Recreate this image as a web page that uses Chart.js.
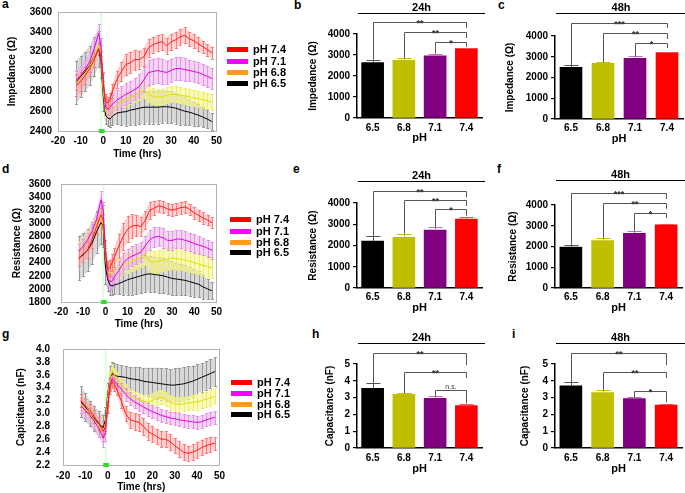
<!DOCTYPE html>
<html><head><meta charset="utf-8">
<script src="https://cdn.jsdelivr.net/npm/chart.js@4"></script>
<style>
body{margin:0;width:685px;height:493px;background:#fff;position:relative;overflow:hidden;font-family:"Liberation Sans",Arial,sans-serif;}
canvas{position:absolute;}
.lt{position:absolute;font:bold 12px "Liberation Sans",Arial,sans-serif;line-height:12px;}
.sw{position:absolute;width:21px;height:5px;}
.lg{position:absolute;font:bold 11px "Liberation Sans",Arial,sans-serif;line-height:12px;white-space:nowrap;}
</style></head><body>
<div class="lt" style="left:2px;top:-2px">a</div>
<div class="lt" style="left:294px;top:-1px">b</div>
<div class="lt" style="left:498px;top:-1px">c</div>
<div class="lt" style="left:2px;top:163px">d</div>
<div class="lt" style="left:293px;top:163px">e</div>
<div class="lt" style="left:497px;top:163px">f</div>
<div class="lt" style="left:2px;top:328px">g</div>
<div class="lt" style="left:312px;top:328px">h</div>
<div class="lt" style="left:512px;top:328px">i</div>

<canvas id="ca" width="226" height="160" style="left:0;top:0"></canvas>
<canvas id="cb" width="190" height="145" style="left:300px;top:0"></canvas>
<canvas id="cc" width="195" height="146" style="left:490px;top:0"></canvas>
<canvas id="cd" width="226" height="162" style="left:0;top:168px"></canvas>
<canvas id="ce" width="190" height="155" style="left:300px;top:160px"></canvas>
<canvas id="cf" width="195" height="155" style="left:490px;top:160px"></canvas>
<canvas id="cg" width="230" height="163" style="left:0;top:330px"></canvas>
<canvas id="ch" width="190" height="146" style="left:300px;top:330px"></canvas>
<canvas id="ci" width="195" height="146" style="left:490px;top:330px"></canvas>
<div id="legends"></div>
<script>
// ---------- DATA ----------
const T = [-12,-10,-8,-6,-4,-2,-1,0,1,2,3,4,6,8,10,12,14,16,18,20,22,24,26,28,30,32,34,36,38,40,42,44,46,48];
const SERIES_LABELS = ['pH 7.4','pH 7.1','pH 6.8','pH 6.5'];

// Impedance time course (Ohm)
const IMP_74  = [2860,2900,2960,3030,3120,3230,3150,2900,2700,2680,2720,2800,2920,3000,3070,3090,3120,3120,3150,3240,3270,3290,3300,3260,3300,3320,3350,3365,3330,3310,3280,3250,3220,3190];
const IMP_74E = [110,100,90,80,70,60,60,80,70,60,60,70,90,100,110,110,100,90,90,90,80,80,80,80,80,80,80,80,70,70,70,60,60,60];
const IMP_71  = [2910,2960,3020,3100,3230,3390,3250,2900,2640,2620,2640,2670,2710,2740,2770,2790,2820,2850,2920,2990,3000,3010,3000,2990,3010,3030,3030,3020,3010,3000,2990,2970,2950,2930];
const IMP_71E = [100,100,100,100,100,90,90,100,80,80,80,90,100,110,110,110,110,120,130,130,130,130,130,120,120,120,120,120,110,110,110,110,110,110];
const IMP_68  = [2890,2930,2980,3050,3150,3260,3150,2800,2600,2570,2590,2620,2660,2700,2720,2740,2760,2790,2810,2770,2750,2740,2745,2760,2770,2770,2760,2755,2745,2735,2725,2715,2705,2690];
const IMP_68E = [70,70,70,60,60,50,50,70,60,50,50,60,60,70,70,70,70,80,80,80,80,80,80,80,80,80,80,80,80,80,80,80,80,80];
const IMP_65  = [2890,2950,3000,3060,3150,3230,3100,2750,2560,2530,2520,2550,2580,2590,2595,2610,2620,2630,2640,2640,2640,2640,2645,2645,2640,2630,2615,2600,2590,2575,2560,2540,2520,2495];
const IMP_65E = [220,210,200,200,200,180,170,150,90,80,80,90,110,130,140,150,160,160,165,165,165,165,160,160,160,155,150,140,130,120,110,100,90,85];

// Resistance time course (Ohm)
const RES_74  = [2470,2530,2590,2750,2950,3130,3050,2600,2300,2320,2400,2480,2650,2800,2910,2960,2970,2950,3050,3200,3230,3270,3250,3220,3200,3220,3240,3250,3210,3160,3120,3080,3050,3010];
const RES_74E = [120,120,120,120,110,100,100,150,120,120,130,150,180,200,200,180,160,150,140,130,110,90,90,90,90,90,90,90,90,90,90,90,80,80];
const RES_71  = [2580,2650,2750,2880,3060,3360,3200,2600,2170,2110,2120,2180,2280,2390,2460,2500,2530,2560,2660,2750,2790,2800,2780,2740,2740,2760,2760,2740,2720,2690,2670,2650,2620,2590];
const RES_71E = [110,110,110,110,120,130,130,150,120,120,120,130,140,150,150,150,150,150,150,150,150,150,150,140,140,140,140,140,140,140,140,130,130,130];
const RES_68  = [2590,2660,2750,2870,3010,3100,3000,2500,2260,2230,2230,2270,2320,2370,2400,2430,2460,2490,2530,2420,2410,2420,2440,2460,2470,2460,2450,2440,2420,2400,2380,2360,2340,2320];
const RES_68E = [130,130,130,130,130,120,120,150,130,130,130,140,150,150,150,150,160,160,160,170,170,170,170,170,170,170,160,160,160,160,160,160,160,160];
const RES_65  = [2470,2520,2590,2700,2870,3010,2960,2350,2150,2060,2045,2060,2080,2110,2140,2160,2180,2200,2220,2230,2220,2210,2200,2180,2160,2150,2140,2130,2110,2090,2070,2030,2000,1970];
const RES_65E = [340,330,320,320,320,330,320,280,180,150,140,140,160,200,230,250,260,270,270,270,270,270,270,260,260,250,240,230,220,210,200,180,150,130];

// Capacitance time course (nF)
const CAP_74  = [3.2,3.12,3.05,2.95,2.85,2.72,2.8,3.1,3.4,3.5,3.45,3.38,3.2,3.0,2.9,2.88,2.86,2.8,2.72,2.68,2.64,2.6,2.6,2.56,2.5,2.45,2.4,2.38,2.4,2.43,2.47,2.5,2.52,2.54];
const CAP_74E = [0.1,0.1,0.1,0.1,0.1,0.08,0.08,0.1,0.1,0.1,0.1,0.1,0.12,0.12,0.13,0.13,0.13,0.13,0.13,0.12,0.12,0.12,0.12,0.12,0.12,0.12,0.12,0.12,0.12,0.12,0.12,0.12,0.12,0.1];
const CAP_71  = [3.12,3.05,2.97,2.88,2.77,2.62,2.7,3.1,3.45,3.54,3.5,3.46,3.38,3.3,3.23,3.18,3.14,3.1,3.06,3.03,3.0,2.97,2.95,2.93,2.92,2.9,2.89,2.88,2.87,2.86,2.87,2.9,2.92,2.94];
const CAP_71E = [0.12,0.12,0.12,0.12,0.13,0.14,0.12,0.1,0.1,0.1,0.1,0.1,0.1,0.1,0.1,0.1,0.1,0.1,0.1,0.1,0.1,0.1,0.1,0.1,0.1,0.1,0.1,0.1,0.1,0.1,0.1,0.1,0.1,0.1];
const CAP_68  = [3.15,3.08,3.0,2.9,2.8,2.72,2.85,3.25,3.55,3.66,3.6,3.55,3.45,3.36,3.28,3.24,3.21,3.19,3.18,3.2,3.24,3.25,3.22,3.17,3.14,3.14,3.15,3.16,3.17,3.18,3.2,3.22,3.24,3.27];
const CAP_68E = [0.1,0.1,0.1,0.1,0.1,0.08,0.08,0.1,0.1,0.1,0.1,0.1,0.1,0.1,0.1,0.1,0.1,0.1,0.1,0.11,0.11,0.11,0.11,0.11,0.11,0.11,0.11,0.11,0.12,0.12,0.12,0.12,0.12,0.12];
const CAP_65  = [3.18,3.1,3.0,2.92,2.84,2.78,2.9,3.3,3.55,3.62,3.6,3.58,3.57,3.56,3.54,3.53,3.52,3.5,3.49,3.48,3.47,3.46,3.45,3.44,3.44,3.45,3.46,3.48,3.5,3.53,3.56,3.59,3.62,3.65];
const CAP_65E = [0.24,0.22,0.2,0.2,0.2,0.2,0.2,0.18,0.18,0.18,0.18,0.18,0.18,0.18,0.18,0.19,0.2,0.21,0.22,0.23,0.24,0.25,0.25,0.25,0.26,0.26,0.26,0.25,0.24,0.23,0.22,0.22,0.22,0.22];

// Stimulus window (hrs)
const STIM_BAND = [-1.3, -0.5];
const STIM_MARK = [-2, 0.6];

// Bar panels
const PH = ['6.5','6.8','7.1','7.4'];
const IMP_24H = [2640,2750,2960,3300];  const IMP_24H_E = [130,100,110,40];
const IMP_48H = [2490,2680,2920,3200];  const IMP_48H_E = [90,50,110,50];
const RES_24H = [2210,2390,2720,3240];  const RES_24H_E = [240,160,140,80];
const RES_48H = [1970,2290,2640,3040];  const RES_48H_E = [110,110,100,50];
const CAP_24H = [3.55,3.2,2.95,2.52];   const CAP_24H_E = [0.3,0.07,0.12,0.07];
const CAP_48H = [3.7,3.3,2.94,2.55];    const CAP_48H_E = [0.2,0.13,0.08,0.09];

// Significance brackets: [from bar, to bar, level, right end, label]
const SIG_B = [[0,3,4570,4290,'**'],[1,3,4095,3810,'**'],[2,3,3620,3390,'*']];
const SIG_C = [[0,3,4630,4390,'***'],[1,3,4145,3855,'**'],[2,3,3660,3420,'*']];
const SIG_E = [[0,3,4565,4280,'**'],[1,3,4140,3860,'**'],[2,3,3720,3400,'*']];
const SIG_F = [[0,3,4580,4290,'***'],[1,3,4100,3810,'**'],[2,3,3610,3380,'*']];
const SIG_H = [[0,3,5.65,4.94,'**'],[1,3,4.52,4.17,'**'],[2,3,3.45,2.66,'n.s.']];
const SIG_I = [[0,3,5.67,4.94,'**'],[1,3,4.54,4.17,'**'],[2,3,3.39,2.72,'*']];

// ---------- STYLE ----------
const FONT = "'Liberation Sans', Arial, sans-serif";
Chart.defaults.font.family = FONT;
Chart.defaults.font.weight = 'bold';
Chart.defaults.color = '#000';
const LINE_COL = ['#ff1a1a','#e000e0','#e0e000','#000000'];
const ERR_COL  = ['#ff7a7a','#e494e4','#eeee60','#999999'];
const BAND_COL = ['rgba(255,150,150,0.45)','rgba(235,170,235,0.5)','rgba(245,245,140,0.55)','rgba(190,190,190,0.6)'];
const LEG_COL  = ['#ff0000','#ff00ff','#ff9a1a','#000000'];
const BAR_COL  = ['#000000','#bfbf00','#800080','#ff0000'];
const BAR_ERR  = ['#555555','#bfbf00','#c070c0','#ff5050'];

// ---------- PLUGINS ----------
function drawErrors(chart, capW, oneSided) {
  const {ctx, scales:{x,y}} = chart;
  const ds = chart.data.datasets;
  ctx.save();
  ctx.lineWidth = 1;
  for (let i = ds.length - 1; i >= 0; i--) {
    const d = ds[i];
    if (!d.errors) continue;
    if (d.bandColor) {
      ctx.fillStyle = d.bandColor;
      ctx.beginPath();
      d.data.forEach((p, j) => {
        const px = x.getPixelForValue(p.x), py = y.getPixelForValue(p.y + d.errors[j]);
        j ? ctx.lineTo(px, py) : ctx.moveTo(px, py);
      });
      for (let j = d.data.length - 1; j >= 0; j--) {
        const p = d.data[j];
        ctx.lineTo(x.getPixelForValue(p.x), y.getPixelForValue(p.y - d.errors[j]));
      }
      ctx.closePath(); ctx.fill();
    }
    d.data.forEach((p, j) => {
      const xv = (typeof p === 'object') ? p.x : j;
      const yv = (typeof p === 'object') ? p.y : p;
      const col = Array.isArray(d.errorColor) ? d.errorColor[j] : d.errorColor;
      const px = Math.round(x.getPixelForValue(xv)) + 0.5;
      const top = Math.round(y.getPixelForValue(yv + d.errors[j])) + 0.5;
      const bot = oneSided ? y.getPixelForValue(yv) : Math.round(y.getPixelForValue(yv - d.errors[j])) + 0.5;
      ctx.strokeStyle = col;
      ctx.beginPath();
      ctx.moveTo(px, top); ctx.lineTo(px, bot);
      ctx.moveTo(px - capW, top); ctx.lineTo(px + capW, top);
      if (!oneSided) { ctx.moveTo(px - capW, bot); ctx.lineTo(px + capW, bot); }
      ctx.stroke();
    });
  }
  ctx.restore();
}

const timePlugin = {
  id: 'timeDeco',
  beforeDatasetsDraw(chart) {
    const {ctx, chartArea:a, scales:{x}} = chart;
    ctx.save();
    ctx.fillStyle = 'rgba(170,255,170,0.45)';
    const b0 = x.getPixelForValue(STIM_BAND[0]), b1 = x.getPixelForValue(STIM_BAND[1]);
    ctx.fillRect(b0, a.top, b1 - b0, a.bottom - a.top);
    ctx.beginPath(); ctx.rect(a.left, a.top, a.right - a.left, a.bottom - a.top); ctx.clip();
    drawErrors(chart, 1.5, false);
    ctx.restore();
  },
  afterDraw(chart) {
    const {ctx, chartArea:a, scales:{x}} = chart;
    ctx.save();
    ctx.strokeStyle = '#b4b4b4'; ctx.lineWidth = 1;
    ctx.strokeRect(Math.round(a.left) + 0.5, Math.round(a.top) + 0.5, Math.round(a.right - a.left), Math.round(a.bottom - a.top));
    const m0 = x.getPixelForValue(STIM_MARK[0]), m1 = x.getPixelForValue(STIM_MARK[1]);
    ctx.fillStyle = '#33dd33';
    ctx.fillRect(m0, a.bottom - 2, m1 - m0, 4);
    ctx.restore();
  }
};

const barPlugin = {
  id: 'barDeco',
  afterDatasetsDraw(chart) { drawErrors(chart, 7, true); },
  afterDraw(chart) {
    const o = chart.options.plugins.barDeco;
    const {ctx, chartArea:a, scales:{x,y}} = chart;
    const d = chart.data.datasets[0];
    ctx.save();
    const ly = Math.round(y.getPixelForValue(o.ruleLevel)) + 0.5;
    ctx.strokeStyle = '#000'; ctx.lineWidth = 1.2;
    ctx.beginPath(); ctx.moveTo(a.left + 1, ly); ctx.lineTo(a.right + 3, ly); ctx.stroke();
    ctx.fillStyle = '#000'; ctx.font = 'bold 11px ' + FONT;
    ctx.textAlign = 'center'; ctx.textBaseline = 'alphabetic';
    ctx.fillText(o.title, (a.left + a.right) / 2 + 2, ly - 3);
    ctx.strokeStyle = '#555'; ctx.lineWidth = 1;
    o.sig.forEach(([i0, i1, lev, rEnd, lab]) => {
      const x0 = Math.round(x.getPixelForValue(i0)) + 0.5, x1 = Math.round(x.getPixelForValue(i1)) + 0.5;
      const yl = Math.round(y.getPixelForValue(lev)) + 0.5;
      const yL = y.getPixelForValue(d.data[i0] + d.errors[i0]);
      const yR = y.getPixelForValue(rEnd);
      ctx.beginPath();
      ctx.moveTo(x0, yL); ctx.lineTo(x0, yl); ctx.lineTo(x1, yl); ctx.lineTo(x1, yR);
      ctx.stroke();
      ctx.fillStyle = '#333';
      const ns = lab === 'n.s.';
      ctx.font = (ns ? '7px ' : 'bold 9px ') + FONT;
      ctx.fillText(lab, (x0 + x1) / 2, ns ? yl - 2 : yl + 3);
    });
    ctx.restore();
  }
};

// ---------- BUILDERS ----------
function timeChart(id, c) {
  return new Chart(document.getElementById(id), {
    type: 'line',
    data: { datasets: c.series.map((s, k) => ({
      label: SERIES_LABELS[k],
      data: T.map((t, j) => ({x: t, y: s[j]})),
      errors: c.errs[k], errorColor: ERR_COL[k], bandColor: BAND_COL[k],
      borderColor: LINE_COL[k], borderWidth: 1, pointRadius: 0, tension: 0, fill: false
    })) },
    options: {
      responsive: false, animation: false, devicePixelRatio: 1, events: [],
      layout: { padding: { top: c.pt, right: c.pr, left: 0, bottom: 0 } },
      plugins: { legend: { display: false }, tooltip: { enabled: false } },
      scales: {
        x: { type: 'linear', min: -20, max: 50,
             ticks: { stepSize: 10, font: { size: 10, weight: 'bold' }, padding: c.xpad, maxRotation: 0, autoSkip: false },
             grid: { display: false, drawTicks: false }, border: { display: false },
             title: { display: true, text: 'Time (hrs)', font: { size: 10, weight: 'bold' }, padding: { top: 0, bottom: 0 } },
             afterFit(s) { s.height = c.xh; } },
        y: { min: c.ymin, max: c.ymax,
             ticks: { stepSize: c.step, autoSkip: false, font: { size: 10, weight: 'bold' }, padding: c.ypad,
                      callback: v => c.dec ? Number(v).toFixed(c.dec) : String(Math.round(v)) },
             grid: { display: false, drawTicks: false }, border: { display: false },
             title: { display: true, text: c.ytitle, font: { size: 10, weight: 'bold' }, padding: { top: c.ytp, bottom: 0 } },
             afterFit(s) { s.width = c.yw; } }
      }
    },
    plugins: [timePlugin]
  });
}

function barChart(id, c) {
  return new Chart(document.getElementById(id), {
    type: 'bar',
    data: { labels: PH, datasets: [{ data: c.vals, errors: c.errs, errorColor: BAR_ERR,
      backgroundColor: BAR_COL, barThickness: 22, borderWidth: 0 }] },
    options: {
      responsive: false, animation: false, devicePixelRatio: 1, events: [],
      layout: { padding: { top: c.pt, right: c.pr, left: 0, bottom: 0 } },
      plugins: { legend: { display: false }, tooltip: { enabled: false },
                 barDeco: { title: c.title, ruleLevel: c.rule, sig: c.sig } },
      scales: {
        x: { ticks: { font: { size: 10, weight: 'bold' }, padding: c.xpad },
             grid: { display: false, drawTicks: false }, border: { display: true, color: '#000', width: 1.5 },
             title: { display: true, text: 'pH', font: { size: 11, weight: 'bold' }, padding: { top: 0, bottom: 0 } },
             afterFit(s) { s.height = c.xh; } },
        y: { min: 0, max: c.ymax,
             ticks: { stepSize: c.step, autoSkip: false, font: { size: 10, weight: 'bold' }, padding: 3,
                      callback: v => String(Math.round(v)) },
             grid: { display: true, drawOnChartArea: false, drawTicks: true, tickLength: 4, color: '#000', lineWidth: 1.2 },
             border: { display: true, color: '#000', width: 1.5 },
             title: { display: true, text: c.ytitle, font: { size: 10, weight: 'bold' }, padding: { top: c.ytp, bottom: 0 } },
             afterFit(s) { s.width = c.yw; } }
      }
    },
    plugins: [barPlugin]
  });
}

// ---------- PANELS ----------
timeChart('ca', { series: [IMP_74, IMP_71, IMP_68, IMP_65], errs: [IMP_74E, IMP_71E, IMP_68E, IMP_65E],
  ymin: 2400, ymax: 3600, step: 200, ytitle: 'Impedance (Ω)', pt: 7, pr: 8, yw: 58, xh: 29, xpad: 4, ypad: 6, ytp: 6 });
timeChart('cd', { series: [RES_74, RES_71, RES_68, RES_65], errs: [RES_74E, RES_71E, RES_68E, RES_65E],
  ymin: 1800, ymax: 3600, step: 200, ytitle: 'Resistance (Ω)', pt: 7, pr: 8, yw: 61, xh: 28, xpad: 4, ypad: 10, ytp: 11 });
timeChart('cg', { series: [CAP_74, CAP_71, CAP_68, CAP_65], errs: [CAP_74E, CAP_71E, CAP_68E, CAP_65E],
  ymin: 2.2, ymax: 4.0, step: 0.2, dec: 1, ytitle: 'Capicitance (nF)', pt: 9, pr: 8, yw: 63, xh: 28, xpad: 5, ypad: 13, ytp: 15 });

barChart('cb', { vals: IMP_24H, errs: IMP_24H_E, ymax: 4000, step: 1000, ytitle: 'Impedance (Ω)', title: '24h', rule: 5000, sig: SIG_B,
  pt: 34, pr: 8, yw: 57, xh: 27, xpad: 4, ytp: 7 });
barChart('cc', { vals: IMP_48H, errs: IMP_48H_E, ymax: 4000, step: 1000, ytitle: 'Impedance (Ω)', title: '48h', rule: 5100, sig: SIG_C,
  pt: 36, pr: 2, yw: 65, xh: 27, xpad: 3, ytp: 14 });
barChart('ce', { vals: RES_24H, errs: RES_24H_E, ymax: 4000, step: 1000, ytitle: 'Resistance (Ω)', title: '24h', rule: 5035, sig: SIG_E,
  pt: 43, pr: 8, yw: 57, xh: 27, xpad: 3, ytp: 7 });
barChart('cf', { vals: RES_48H, errs: RES_48H_E, ymax: 4000, step: 1000, ytitle: 'Resistance (Ω)', title: '48h', rule: 5205, sig: SIG_F,
  pt: 45, pr: 3, yw: 65, xh: 27, xpad: 3, ytp: 17 });
barChart('ch', { vals: CAP_24H, errs: CAP_24H_E, ymax: 5, step: 1, ytitle: 'Capacitance (nF)', title: '24h', rule: 6.25, sig: SIG_H,
  pt: 34, pr: 8, yw: 57, xh: 28, xpad: 4, ytp: 24 });
barChart('ci', { vals: CAP_48H, errs: CAP_48H_E, ymax: 5, step: 1, ytitle: 'Capacitance (nF)', title: '48h', rule: 6.25, sig: SIG_I,
  pt: 34, pr: 3, yw: 65, xh: 28, xpad: 4, ytp: 29 });

// ---------- LEGENDS (HTML text) ----------
const LEGEND_SPOTS = [{x: 227, ys: [49, 61, 72, 83]}, {x: 230, ys: [219, 231, 242, 252]}, {x: 231, ys: [382, 393, 404, 414]}];
const lgRoot = document.getElementById('legends');
LEGEND_SPOTS.forEach(sp => {
  SERIES_LABELS.forEach((lab, k) => {
    const sw = document.createElement('div');
    sw.className = 'sw'; sw.style.left = sp.x + 'px'; sw.style.top = (sp.ys[k] - 2.5) + 'px'; sw.style.background = LEG_COL[k];
    const tx = document.createElement('div');
    tx.className = 'lg'; tx.style.left = (sp.x + 26) + 'px'; tx.style.top = (sp.ys[k] - 6) + 'px'; tx.textContent = lab;
    lgRoot.appendChild(sw); lgRoot.appendChild(tx);
  });
});
</script>
</body></html>
